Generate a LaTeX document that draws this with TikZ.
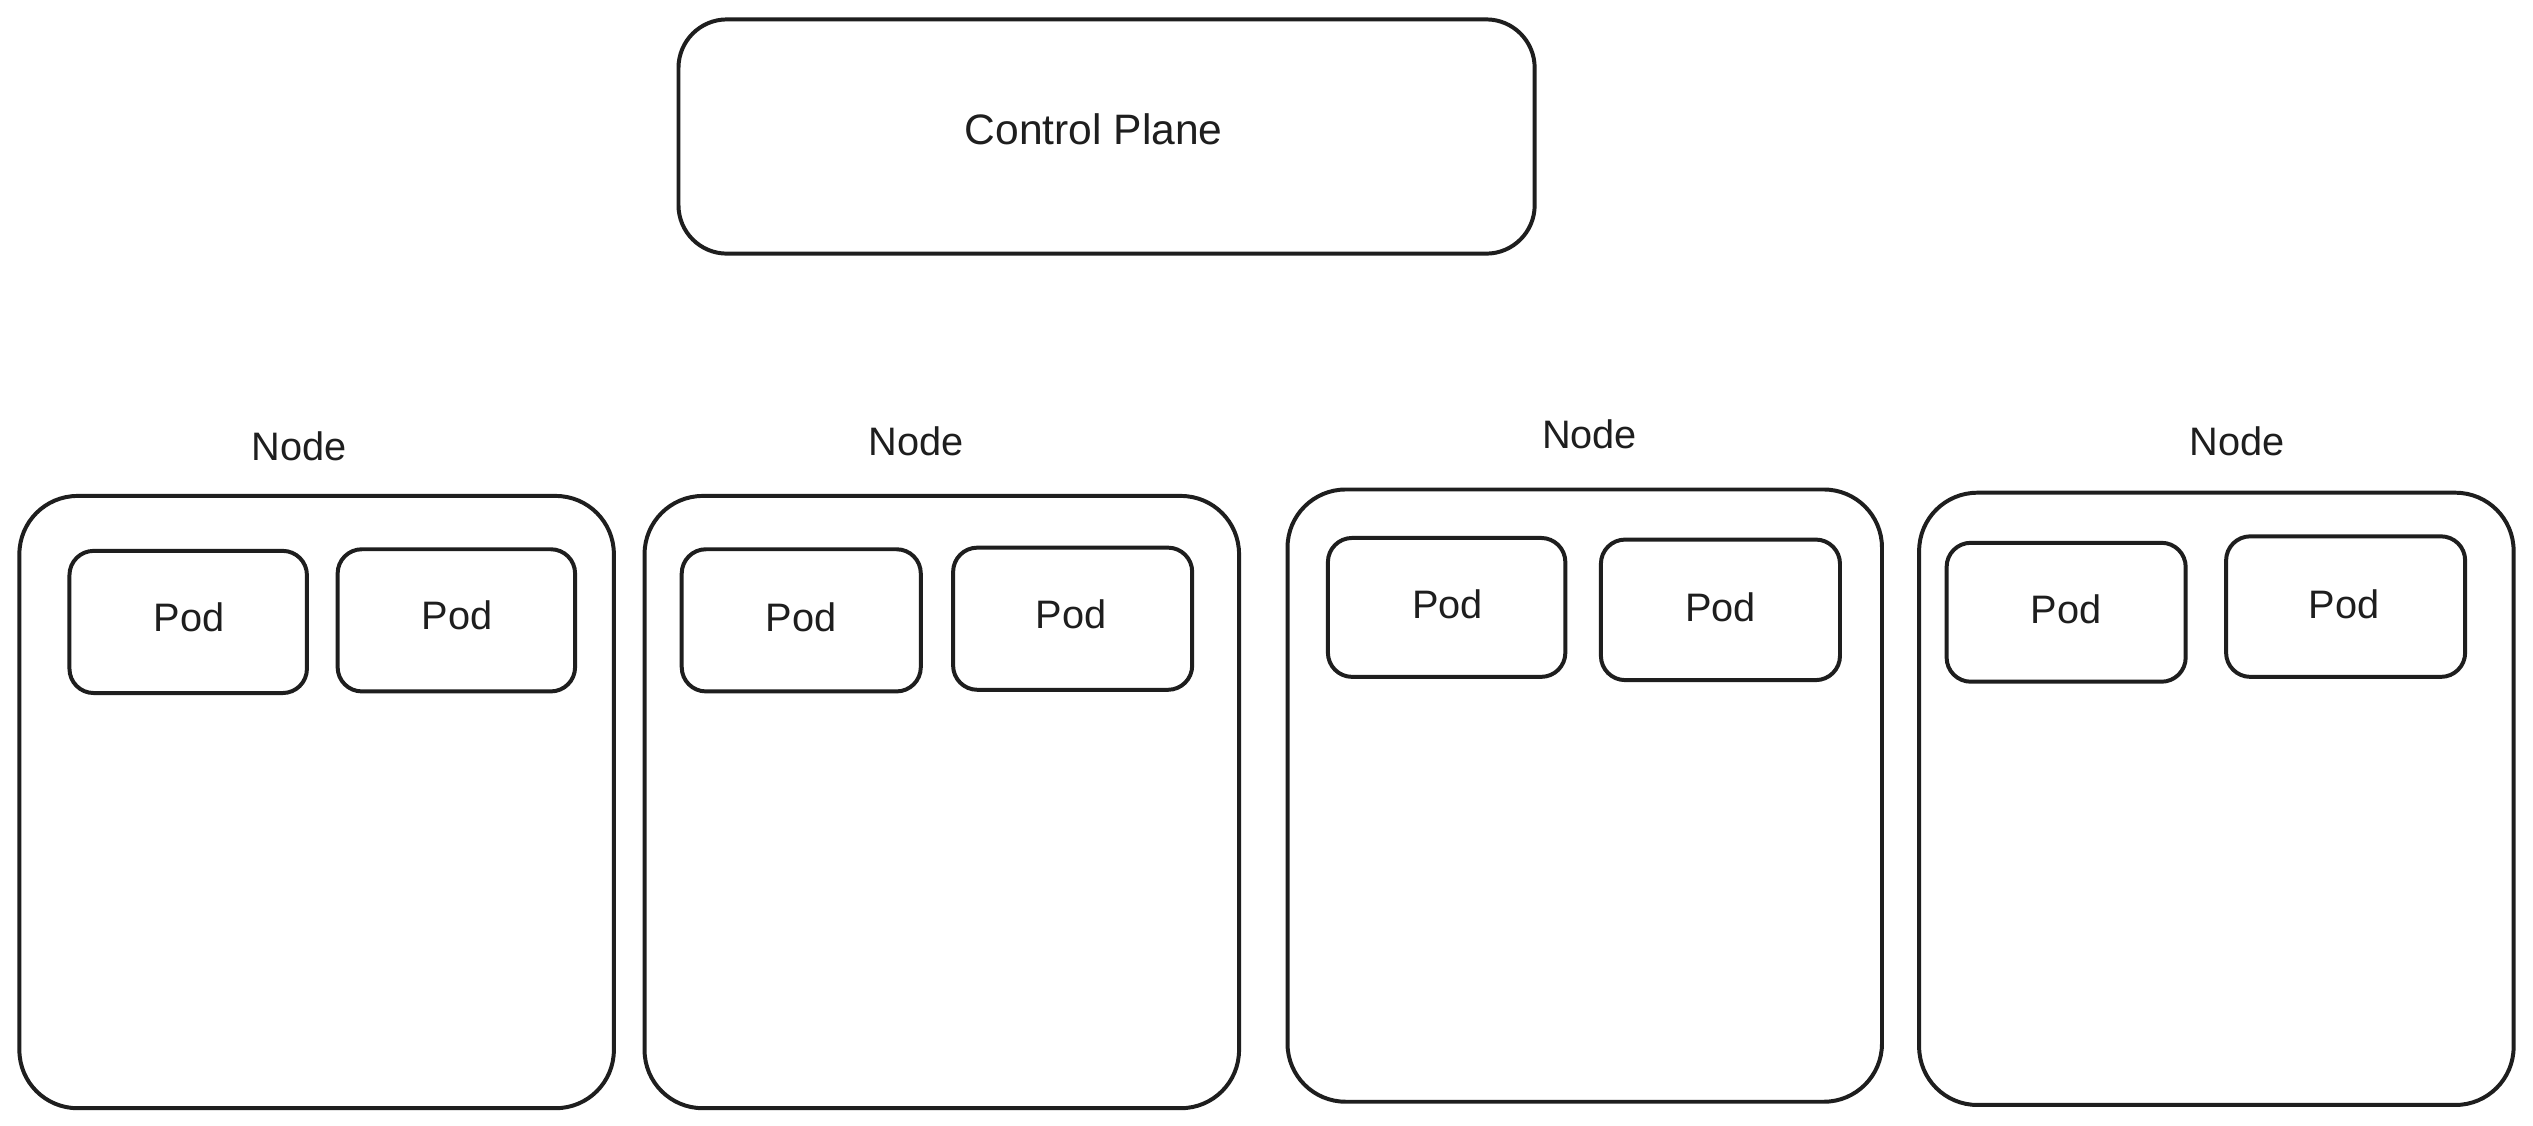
\documentclass[tikz,border=0pt]{standalone}
\usepackage{fontspec}
\setmainfont{Liberation Sans}
\usetikzlibrary{fit}
\definecolor{ink}{HTML}{1E1E1E}
\begin{document}
\begin{tikzpicture}[x=0.02cm,y=-0.02cm,
  every node/.style={text=ink},
  cpbox/.style={draw=ink, line width=1.4pt, rounded corners=0.6cm, inner sep=0pt, font=\fontsize{15}{18}\selectfont},
  nodebox/.style={draw=ink, line width=1.4pt, rounded corners=0.72cm, inner sep=0pt},
  podbox/.style={draw=ink, line width=1.4pt, rounded corners=0.3cm, inner sep=0pt, font=\fontsize{14}{17}\selectfont},
  lbl/.style={font=\fontsize{14}{17}\selectfont, inner sep=1pt}]
\useasboundingbox[fill=white] (0,0) rectangle (1568,697);

% control plane
\node[cpbox, fit={(420,12) (950,157)}] (cp) {};
\node[lbl, font=\fontsize{15}{18}\selectfont] (cptext) at (677,80) {Control Plane};

% worker nodes
\node[nodebox, fit={(12,307) (380,686)}] (n1) {};
\node[nodebox, fit={(399,307) (767,686)}] (n2) {};
\node[nodebox, fit={(797,303) (1165,682)}] (n3) {};
\node[nodebox, fit={(1188,305) (1556,684)}] (n4) {};

\node[lbl] (l1) at (185,276) {Node};
\node[lbl] (l2) at (567,273) {Node};
\node[lbl] (l3) at (984,269) {Node};
\node[lbl] (l4) at (1385,273) {Node};

% pods
\node[podbox, fit={(43,341) (190,429)}] (p11) {};
\node[podbox, fit={(209,340) (356,428)}] (p12) {};
\node[podbox, fit={(422,340) (570,428)}] (p21) {};
\node[podbox, fit={(590,339) (738,427)}] (p22) {};
\node[podbox, fit={(822,333) (969,419)}] (p31) {};
\node[podbox, fit={(991,334) (1139,421)}] (p32) {};
\node[podbox, fit={(1205,336) (1353,422)}] (p41) {};
\node[podbox, fit={(1378,332) (1526,419)}] (p42) {};

\node[lbl] (t11) at (117,382) {Pod};
\node[lbl] (t12) at (283,381) {Pod};
\node[lbl] (t21) at (496,382) {Pod};
\node[lbl] (t22) at (663,380) {Pod};
\node[lbl] (t31) at (896,374) {Pod};
\node[lbl] (t32) at (1065,376) {Pod};
\node[lbl] (t41) at (1279,377) {Pod};
\node[lbl] (t42) at (1451,374) {Pod};
\end{tikzpicture}
\end{document}
